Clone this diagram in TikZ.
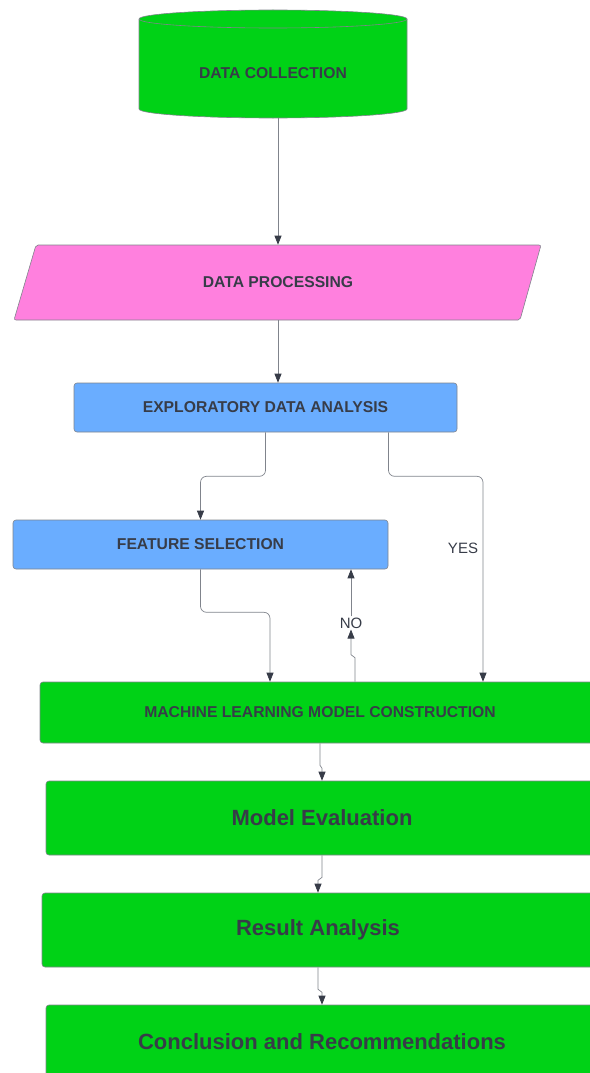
\documentclass[tikz,border=0pt]{standalone}
\usepackage{fontspec}
\setmainfont{Liberation Sans}
\usepackage{tikz}
\usetikzlibrary{calc,arrows.meta}
\definecolor{boxgreen}{RGB}{0,210,22}
\definecolor{boxpink}{RGB}{255,128,222}
\definecolor{boxblue}{RGB}{106,173,255}
\definecolor{edgegray}{RGB}{128,132,140}
\definecolor{txtgray}{RGB}{55,60,72}

\begin{document}
\begin{tikzpicture}[x=1pt,y=-1pt,
        box/.style={draw=edgegray, line width=0.6pt, rounded corners=3pt, inner sep=0pt,
            text=txtgray, font=\bfseries\fontsize{15.7}{18}\selectfont},
        bigbox/.style={box, fill=boxgreen, font=\bfseries\fontsize{22}{26}\selectfont},
        lbl/.style={text=txtgray, inner sep=1pt, font=\fontsize{15}{18}\selectfont},
        conn/.style={draw=edgegray, line width=0.7pt, rounded corners=6pt,
            -{Triangle[length=9pt,width=7pt,color=txtgray]}}]
            \useasboundingbox (0,0) rectangle (589,1073);
        % data collection (cylinder)
            \filldraw [fill=boxgreen, draw=edgegray, line width=0.6pt]
                (139,19) -- (139,109) arc [start angle=180, end angle=0, x radius=134, y radius=9]
                -- (407,19) arc [start angle=0, end angle=-180, x radius=134, y radius=9] -- cycle;
            \draw [edgegray, line width=0.6pt] (139,19) arc [start angle=180, end angle=0, x radius=134, y radius=9];
            \node [box, draw=none, minimum width=268pt, minimum height=90pt] (dc) at (273,73) {DATA COLLECTION};
        % data processing (parallelogram)
            \filldraw [fill=boxpink, draw=edgegray, line width=0.6pt, rounded corners=2pt]
                (36,245) -- (541,245) -- (520,320) -- (14,320) -- cycle;
            \node [box, draw=none, minimum width=480pt, minimum height=75pt] (dp) at (278,282.5) {DATA PROCESSING};
        % boxes
            \node [box, fill=boxblue, minimum width=383pt, minimum height=49pt] (eda) at (265.5,407.5) {EXPLORATORY DATA ANALYSIS};
            \node [box, fill=boxblue, minimum width=375pt, minimum height=49pt] (fs) at (200.5,544.5) {FEATURE SELECTION};
            \node [box, fill=boxgreen, minimum width=560pt, minimum height=61pt] (mlmc) at (320,712.5) {MACHINE LEARNING MODEL CONSTRUCTION};
            \node [bigbox, minimum width=552pt, minimum height=74pt] (me) at (322,818) {Model Evaluation};
            \node [bigbox, minimum width=552pt, minimum height=74pt] (ra) at (318,930) {Result Analysis};
            \node [bigbox, minimum width=552pt, minimum height=74pt] (cr) at (322,1042) {Conclusion and Recommendations};
            \node [lbl] (yes) at (463,548) {YES};
            \node [lbl] (no) at (351,623) {NO};
        % connectors
            \draw [conn] (dp.north |- dc.south) -- (dp.north);
            \draw [conn] (dp.south) -- (dp.south |- eda.north);
            \draw [conn] (eda.south) -- ++(0,44) -| (fs.north);
            \draw [conn] ([xshift=123pt]eda.south) -- ++(0,44) -| ([xshift=163pt]mlmc.north);
            \draw [conn] (fs.south) -- ++(0,43) -| ([xshift=-50pt]mlmc.north);
            \draw [conn, rounded corners=0pt] ([xshift=35pt]mlmc.north) -- ++(0,-24) -- ++(-4,-3) -- (no.south);
            \draw [conn] (no.north) -- (no.north |- fs.south);
            \draw [conn, rounded corners=0pt] (mlmc.south) -- ++(0,22) -- ++(2,3) -- (me.north);
            \draw [conn, rounded corners=0pt] (me.south) -- ++(0,22) -- ++(-4,3) -- (ra.north);
            \draw [conn, rounded corners=0pt] (ra.south) -- ++(0,22) -- ++(4,3) -- (cr.north);
        \end{tikzpicture}
\end{document}
